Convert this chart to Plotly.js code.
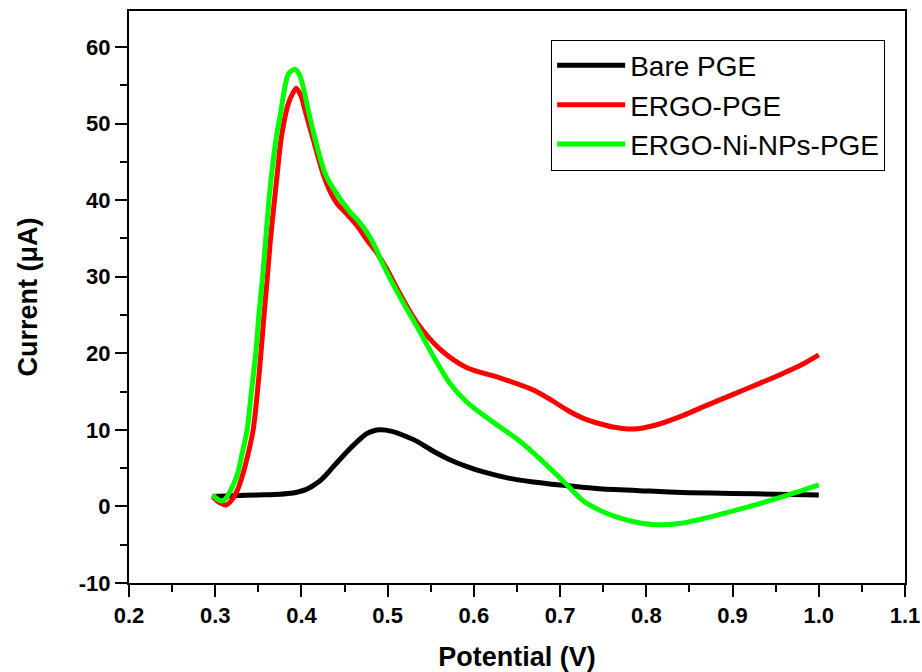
<!DOCTYPE html>
<html>
<head>
<meta charset="utf-8">
<script src="https://cdn.plot.ly/plotly-3.0.1.min.js"></script>
<style>
  html, body { margin: 0; padding: 0; background: #ffffff; }
  #chart { width: 922px; height: 672px; }
</style>
</head>
<body>
<div id="chart"></div>
<script>
// Series names
const seriesNames = ["Bare PGE", "ERGO-PGE", "ERGO-Ni-NPs-PGE"];

// Bare PGE
const barePotential = [0.297, 0.32, 0.35, 0.375, 0.39, 0.398, 0.405, 0.412, 0.418, 0.424, 0.430, 0.437, 0.445, 0.455, 0.464, 0.470, 0.4757, 0.483, 0.491, 0.505, 0.52, 0.534, 0.553, 0.572, 0.592, 0.611, 0.64, 0.669, 0.70, 0.746, 0.804, 0.85, 0.9, 0.95, 1.0];
const bareCurrent   = [1.3, 1.4, 1.5, 1.6, 1.75, 1.95, 2.2, 2.6, 3.05, 3.6, 4.3, 5.2, 6.2, 7.4, 8.4, 9.0, 9.5, 9.85, 10.0, 9.8, 9.2, 8.5, 7.2, 6.1, 5.2, 4.5, 3.7, 3.2, 2.8, 2.3, 2.0, 1.8, 1.7, 1.6, 1.5];

// ERGO-PGE
const ergoPotential = [0.297, 0.305, 0.313, 0.319, 0.326, 0.332, 0.338, 0.344, 0.349, 0.353, 0.357, 0.3605, 0.364, 0.368, 0.372, 0.3763, 0.3837, 0.3875, 0.394, 0.4003, 0.403, 0.4137, 0.425, 0.433, 0.441, 0.4525, 0.465, 0.476, 0.487, 0.499, 0.514, 0.534, 0.561, 0.592, 0.630, 0.669, 0.688, 0.708, 0.727, 0.746, 0.765, 0.785, 0.81, 0.843, 0.87, 0.9, 0.93, 0.959, 0.98, 1.0];
const ergoCurrent   = [1.3, 0.5, 0.2, 0.8, 2.2, 4.2, 6.8, 10, 15, 20, 25.5, 30, 34.8, 39.2, 43.5, 47.9, 52.2, 53.4, 54.6, 53.4, 52.2, 47.9, 43.5, 41.2, 39.6, 38.2, 36.6, 34.8, 33.2, 31.0, 27.8, 24.0, 20.5, 18.1, 16.8, 15.2, 14.0, 12.6, 11.5, 10.8, 10.3, 10.1, 10.6, 11.9, 13.2, 14.6, 16.0, 17.4, 18.5, 19.8];

// ERGO-Ni-NPs-PGE
const niPotential = [0.297, 0.302, 0.308, 0.314, 0.320, 0.326, 0.331, 0.337, 0.342, 0.347, 0.351, 0.355, 0.3585, 0.3617, 0.3655, 0.3705, 0.377, 0.380, 0.385, 0.3926, 0.398, 0.403, 0.407, 0.416, 0.4274, 0.437, 0.456, 0.466, 0.476, 0.485, 0.495, 0.514, 0.534, 0.553, 0.572, 0.592, 0.61, 0.630, 0.65, 0.669, 0.688, 0.70, 0.708, 0.727, 0.746, 0.766, 0.79, 0.812, 0.84, 0.862, 0.89, 0.92, 0.959, 1.0];
const niCurrent   = [1.5, 1.0, 0.7, 1.3, 2.6, 4.3, 6.8, 10, 15, 20, 25.5, 30, 34.8, 39.2, 43.5, 47.9, 52.2, 54.3, 56.5, 57.1, 56.3, 54.3, 52.2, 47.9, 43.5, 41.5, 38.5, 37.3, 35.8, 34.0, 31.5, 27.4, 23.5, 19.6, 16.1, 13.6, 12.0, 10.4, 8.8, 7.0, 5.0, 3.7, 2.8, 0.7, -0.5, -1.4, -2.1, -2.4, -2.2, -1.7, -0.9, 0.0, 1.3, 2.8];

// Axis ticks
const xRange = [0.2, 1.1];
const yRange = [-10, 64.7];
const xTickVals = [0.2, 0.3, 0.4, 0.5, 0.6, 0.7, 0.8, 0.9, 1.0, 1.1];
const xTickText = ["0.2", "0.3", "0.4", "0.5", "0.6", "0.7", "0.8", "0.9", "1.0", "1.1"];
const yTickVals = [-10, 0, 10, 20, 30, 40, 50, 60];
const yTickText = ["-10", "0", "10", "20", "30", "40", "50", "60"];

const colors = ["#000000", "#ff0000", "#00ff00"];
const FONT = 'Arial, "Liberation Sans", sans-serif';

const traces = [
  {x: barePotential, y: bareCurrent, name: seriesNames[0]},
  {x: ergoPotential, y: ergoCurrent, name: seriesNames[1]},
  {x: niPotential, y: niCurrent, name: seriesNames[2]}
].map((t, i) => Object.assign(t, {
  type: 'scatter', mode: 'lines',
  line: {color: colors[i], width: 5, shape: 'spline', smoothing: 0.8},
  hoverinfo: 'x+y+name'
}));

const tickFont = {family: FONT, size: 22, color: '#000', weight: 'bold'};
const titleFont = {family: FONT, size: 27, color: '#000', weight: 'bold'};

const layout = {
  width: 922, height: 672,
  margin: {l: 129, r: 17, t: 11, b: 89},
  paper_bgcolor: '#ffffff', plot_bgcolor: '#ffffff',
  showlegend: true,
  legend: {
    x: 0.544, y: 0.95, xanchor: 'left', yanchor: 'top',
    bgcolor: '#ffffff', bordercolor: '#000000', borderwidth: 1,
    font: {family: FONT, size: 28, color: '#000'},
    itemwidth: 68, tracegroupgap: 0
  },
  xaxis: {
    range: xRange, tickvals: xTickVals, ticktext: xTickText,
    ticks: 'outside', ticklen: 12, tickwidth: 2, tickcolor: '#000',
    minor: {dtick: 0.05, tick0: 0.2, ticks: 'outside', ticklen: 7, tickwidth: 2, tickcolor: '#000'},
    showline: true, linewidth: 2, linecolor: '#000', mirror: true,
    showgrid: false, zeroline: false, tickfont: tickFont,
    title: {text: 'Potential (V)', font: titleFont, standoff: 20}
  },
  yaxis: {
    range: yRange, tickvals: yTickVals, ticktext: yTickText,
    ticks: 'outside', ticklen: 12, tickwidth: 2, tickcolor: '#000',
    minor: {dtick: 5, tick0: -10, ticks: 'outside', ticklen: 7, tickwidth: 2, tickcolor: '#000'},
    showline: true, linewidth: 2, linecolor: '#000', mirror: true,
    showgrid: false, zeroline: false, tickfont: tickFont,
    title: {text: 'Current (μA)', font: titleFont, standoff: 33}
  },
  xaxis2: {
    overlaying: 'x', side: 'top', anchor: 'y', range: xRange,
    dtick: 0.05, tick0: 0.2, ticks: 'inside', ticklen: 4, tickwidth: 2, tickcolor: '#000',
    showticklabels: false, showgrid: false, zeroline: false, showline: false
  },
  yaxis2: {
    overlaying: 'y', side: 'right', anchor: 'x', range: yRange,
    dtick: 5, tick0: -10, ticks: 'inside', ticklen: 4, tickwidth: 2, tickcolor: '#000',
    showticklabels: false, showgrid: false, zeroline: false, showline: false
  }
};

Plotly.newPlot('chart', traces, layout, {displayModeBar: false, staticPlot: true});
</script>
</body>
</html>
